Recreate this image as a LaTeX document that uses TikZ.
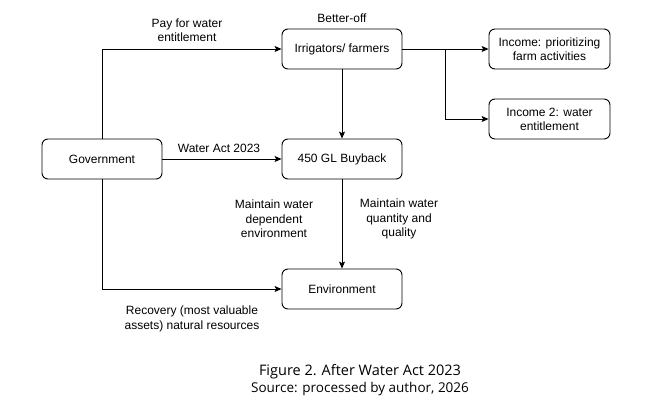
\documentclass[tikz,border=0pt]{standalone}
\usepackage{fontspec}
\setmainfont{Liberation Sans}
\newfontfamily\capfont{Open Sans}
\usetikzlibrary{arrows.meta}
\begin{document}
\begin{tikzpicture}[x=1pt,y=-1pt,
  box/.style={draw,rounded corners=6pt,minimum width=120pt,minimum height=40pt,align=center,font=\fontsize{12}{14}\selectfont,inner sep=2pt,line width=0.9pt},
  lbl/.style={align=center,font=\fontsize{12}{14.5}\selectfont,inner sep=0pt},
  arr/.style={line width=0.9pt,-{Stealth[length=7pt,width=6pt,inset=1.5pt]}},
  captext/.style={font=\capfont\fontsize{13.5}{16}\selectfont,inner sep=0pt}]
\useasboundingbox (0,0) rectangle (662,405);
\fill[white] (0,0) rectangle (662,405);
\node[box] (irr) at (342,49) {Irrigators/ farmers};
\node[box] (gov) at (102,159) {Government};
\node[box] (buy) at (342,159) {450 GL Buyback};
\node[box] (env) at (342,289) {Environment};
\node[box,minimum width=121pt] (inc1) at (549.5,49) {Income: prioritizing\\farm activities};
\node[box,minimum width=121pt] (inc2) at (549.5,119) {Income 2: water\\entitlement};
\coordinate (br) at (445,49);
\draw[arr] (gov.north) |- (irr.west);
\draw[arr] (gov.east) -- (buy.west);
\draw[arr] (gov.south) |- (env.west);
\draw[arr] (irr.south) -- (buy.north);
\draw[arr] (buy.south) -- (env.north);
\draw[arr] (irr.east) -- (inc1.west);
\draw[arr] (br) |- (inc2.west);
\node[lbl] (l1) at (187,30) {Pay for water\\entitlement};
\node[lbl] (l2) at (342,18) {Better-off};
\node[lbl] (l3) at (219,148) {Water Act 2023};
\node[lbl] (l4) at (274,219) {Maintain water\\dependent\\environment};
\node[lbl] (l5) at (399,219) {Maintain water\\quantity and\\quality};
\node[lbl] (l6) at (192,319) {Recovery (most valuable\\assets) natural resources};
\node[captext,font=\capfont\fontsize{14.5}{17}\selectfont] (c1) at (360,372) {Figure 2. After Water Act 2023};
\node[captext] (c2) at (360,389) {Source: processed by author, 2026};
\end{tikzpicture}
\end{document}
